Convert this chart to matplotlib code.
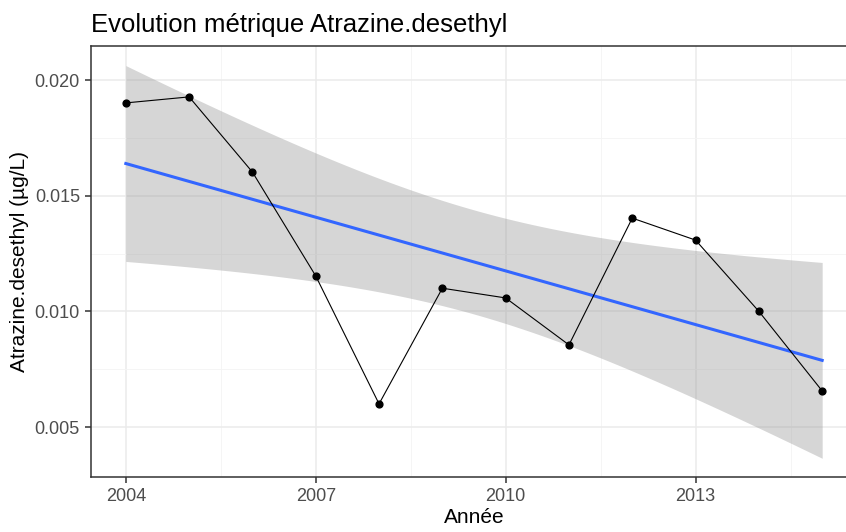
import numpy as np
import matplotlib
matplotlib.use("Agg")
from matplotlib import pyplot as plt

plt.rcParams['font.family'] = ['Liberation Sans', 'DejaVu Sans']

# Données
annees = np.array([2004, 2005, 2006, 2007, 2008, 2009, 2010, 2011, 2012, 2013, 2014, 2015])
valeurs = np.array([0.01901, 0.01927, 0.01602, 0.01153, 0.00600, 0.01100,
                    0.01058, 0.00855, 0.01403, 0.01308, 0.01000, 0.00656])
xticks = [2004, 2007, 2010, 2013]
yticks = [0.005, 0.010, 0.015, 0.020]
T_975 = 2.228  # quantile t à 10 ddl

# Régression linéaire + IC 95 % (comme geom_smooth(method="lm"))
n = len(annees)
b, a = np.polyfit(annees, valeurs, 1)
xs = np.linspace(annees.min(), annees.max(), 80)
ys = a + b * xs
resid = valeurs - (a + b * annees)
s = np.sqrt(np.sum(resid**2) / (n - 2))
xm = annees.mean()
se = s * np.sqrt(1/n + (xs - xm)**2 / np.sum((annees - xm)**2))

fig = plt.figure(figsize=(8.46, 5.32), dpi=100)
ax = fig.add_axes([91/846, 1 - 477/532, (857 - 91)/846, (477 - 46)/532])

ax.fill_between(xs, ys - T_975*se, ys + T_975*se, color='#999999', alpha=0.4,
                lw=0, zorder=2)
ax.plot(xs, ys, color='#3366FF', lw=2.2, zorder=3)
ax.plot(annees, valeurs, color='black', lw=0.8, zorder=4)
ax.scatter(annees, valeurs, s=24, color='black', zorder=5)

ax.set_xlim(2003.45, 2015.55)
ax.set_ylim(0.00284, 0.02147)
ax.set_xticks(xticks)
ax.set_xticklabels([str(t) for t in xticks])
ax.set_yticks(yticks)
ax.set_yticklabels([f"{t:.3f}" for t in yticks])
ax.set_xticks([2005.5, 2008.5, 2011.5, 2014.5], minor=True)
ax.set_yticks([0.0075, 0.0125, 0.0175], minor=True)

ax.grid(True, which='major', color='#EBEBEB', lw=1.1, zorder=0)
ax.grid(True, which='minor', color='#F4F4F4', lw=0.6, zorder=0)
ax.set_axisbelow(True)
for sp in ax.spines.values():
    sp.set_color('#333333')
    sp.set_linewidth(1.1)

ax.tick_params(which='major', length=4, width=1.1, color='#333333',
               labelcolor='#4D4D4D', labelsize=13, pad=4)
ax.tick_params(which='minor', length=0)

ax.set_xlabel("Année", fontsize=15, labelpad=2)
ax.set_ylabel("Atrazine.desethyl (µg/L)", fontsize=15, labelpad=4)
fig.text(91/846, 1 - 32/532, "Evolution métrique Atrazine.desethyl", fontsize=18.5,
         ha='left', va='baseline')

fig.savefig("out.png", dpi=100)
